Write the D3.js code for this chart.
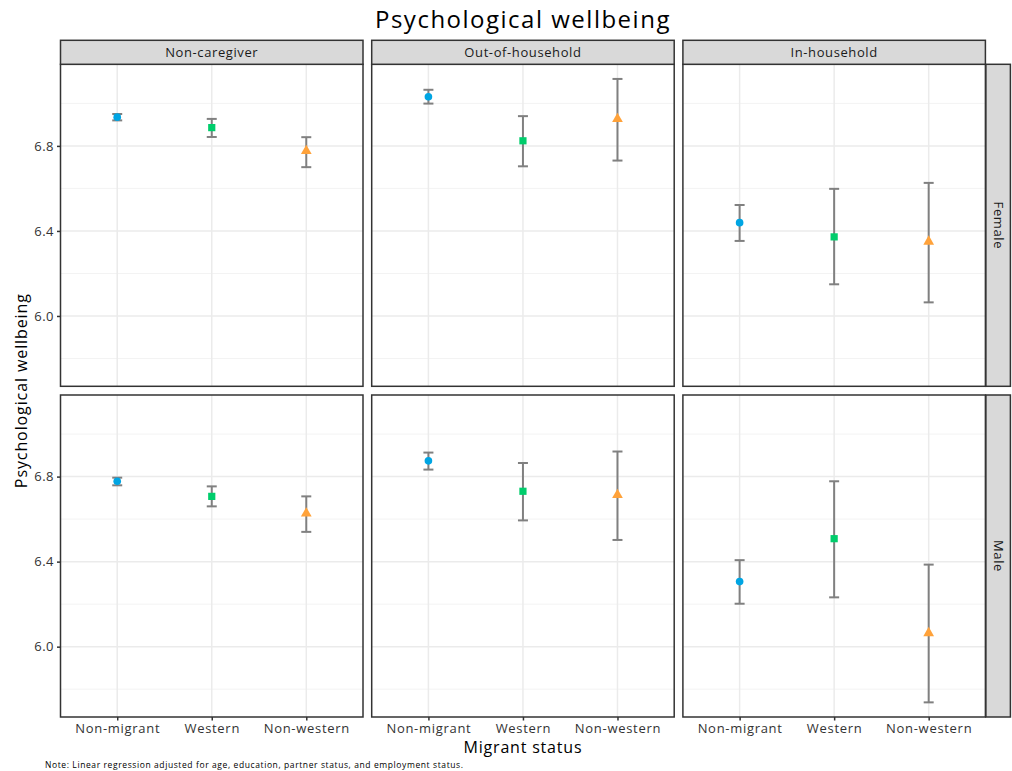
<!DOCTYPE html>
<html>
<head>
<meta charset="utf-8">
<script src="https://cdn.jsdelivr.net/npm/d3@7"></script>
<style>
  body { margin: 0; background: #fff; }
  svg text { font-family: "Open Sans", "Noto Sans", sans-serif; }
</style>
</head>
<body>
<svg id="chart"></svg>
<script>
// facets and categories
var caregiving = ["Non-caregiver", "Out-of-household", "In-household"];
var gender = ["Female", "Male"];
var migrant = ["Non-migrant", "Western", "Non-western"];

// estimates, rows = caregiving, cols = migrant status
var femaleEst = [[6.935, 6.886, 6.776], [7.031, 6.824, 6.927], [6.439, 6.372, 6.350]];
var femaleLo  = [[6.920, 6.842, 6.700], [6.999, 6.704, 6.731], [6.353, 6.149, 6.064]];
var femaleHi  = [[6.950, 6.927, 6.841], [7.064, 6.940, 7.115], [6.522, 6.598, 6.626]];
var maleEst   = [[6.778, 6.707, 6.627], [6.874, 6.731, 6.714], [6.306, 6.508, 6.064]];
var maleLo    = [[6.759, 6.660, 6.540], [6.833, 6.594, 6.502], [6.202, 6.232, 5.738]];
var maleHi    = [[6.795, 6.754, 6.707], [6.913, 6.864, 6.918], [6.407, 6.778, 6.386]];

var majorTicks = [6.0, 6.4, 6.8];
var minorTicks = [5.8, 6.2, 6.6, 7.0];
var colors = ["#00A5E3", "#00CD6C", "#FFA23A"];

var draw = function(){
    const width = 1012, height = 771;
    const left = 60.5, top = 64.3;
    const panelW = 302.5, panelH = 322, gap = 8.7;
    const stripH = 24, stripW = 24.5;

    var svg = d3.select('svg#chart')
    .attr('width', width)
    .attr('height', height);

    // build rows of data
    var est = {Female: femaleEst, Male: maleEst};
    var lo = {Female: femaleLo, Male: maleLo};
    var hi = {Female: femaleHi, Male: maleHi};
    var rows = [];
    gender.forEach(function(g){
        caregiving.forEach(function(c, ci){
            migrant.forEach(function(m, mi){
                rows.push({g: g, c: c, m: m, est: est[g][ci][mi], lo: lo[g][ci][mi], hi: hi[g][ci][mi]});
            });
        });
    });

    // shared y scale with ggplot style 5% expansion
    var yMin = d3.min(rows, d => d.lo), yMax = d3.max(rows, d => d.hi);
    var pad = (yMax - yMin) * 0.05;
    var y = d3.scaleLinear().domain([yMin - pad, yMax + pad]).range([panelH, 0]);
    var x = d3.scalePoint().domain(migrant).range([0, panelW]).padding(0.6);
    var color = d3.scaleOrdinal().domain(migrant).range(colors);
    var shape = d3.scaleOrdinal().domain(migrant).range([d3.symbolCircle, d3.symbolSquare, d3.symbolTriangle]);
    var shapeSize = d3.scaleOrdinal().domain(migrant).range([46, 52, 50]);

    // title
    svg.append('text')
    .attr('x', left + (panelW * 3 + gap * 2) / 2)
    .attr('y', 28)
    .attr('text-anchor', 'middle')
    .style('font-size', '24px')
    .style('letter-spacing', '1.5px')
    .style('fill', '#000')
    .text('Psychological wellbeing');

    gender.forEach(function(g, gi){
        caregiving.forEach(function(c, ci){
            var px = left + ci * (panelW + gap);
            var py = top + gi * (panelH + gap);
            var p = svg.append('g').attr('transform', 'translate(' + px + ',' + py + ')');

            p.append('rect').attr('width', panelW).attr('height', panelH).attr('fill', '#fff');

            // gridlines
            p.selectAll('line.minor').data(minorTicks).enter().append('line')
            .attr('x1', 0).attr('x2', panelW)
            .attr('y1', d => y(d)).attr('y2', d => y(d))
            .attr('stroke', '#F3F3F3').attr('stroke-width', 1);
            p.selectAll('line.major').data(majorTicks).enter().append('line')
            .attr('x1', 0).attr('x2', panelW)
            .attr('y1', d => y(d)).attr('y2', d => y(d))
            .attr('stroke', '#EBEBEB').attr('stroke-width', 1.5);
            p.selectAll('line.vmajor').data(migrant).enter().append('line')
            .attr('x1', d => x(d)).attr('x2', d => x(d))
            .attr('y1', 0).attr('y2', panelH)
            .attr('stroke', '#EBEBEB').attr('stroke-width', 1.5);

            var sub = rows.filter(r => r.g === g && r.c === c);

            // error bars
            var eb = p.selectAll('g.eb').data(sub).enter().append('g')
            .attr('stroke', '#808080').attr('stroke-width', 2);
            eb.append('line')
            .attr('x1', d => x(d.m)).attr('x2', d => x(d.m))
            .attr('y1', d => y(d.lo)).attr('y2', d => y(d.hi));
            eb.append('line')
            .attr('x1', d => x(d.m) - 5).attr('x2', d => x(d.m) + 5)
            .attr('y1', d => y(d.lo)).attr('y2', d => y(d.lo));
            eb.append('line')
            .attr('x1', d => x(d.m) - 5).attr('x2', d => x(d.m) + 5)
            .attr('y1', d => y(d.hi)).attr('y2', d => y(d.hi));

            // points
            p.selectAll('path.pt').data(sub).enter().append('path')
            .attr('d', d => d3.symbol().type(shape(d.m)).size(shapeSize(d.m))())
            .attr('transform', d => 'translate(' + x(d.m) + ',' + y(d.est) + ')')
            .attr('fill', d => color(d.m));

            // border
            p.append('rect').attr('width', panelW).attr('height', panelH)
            .attr('fill', 'none').attr('stroke', '#333').attr('stroke-width', 1.5);

            // top strip
            if(gi === 0){
                var s = svg.append('g').attr('transform', 'translate(' + px + ',' + (top - stripH) + ')');
                s.append('rect').attr('width', panelW).attr('height', stripH)
                .attr('fill', '#D9D9D9').attr('stroke', '#333').attr('stroke-width', 1.5);
                s.append('text').attr('x', panelW / 2).attr('y', stripH / 2)
                .attr('dy', '0.35em').attr('text-anchor', 'middle')
                .style('font-size', '13px').style('letter-spacing', '0.6px')
                .style('fill', '#1A1A1A').text(c);
            }
            // right strip
            if(ci === caregiving.length - 1){
                var r = svg.append('g').attr('transform', 'translate(' + (px + panelW + 0.5) + ',' + py + ')');
                r.append('rect').attr('width', stripW).attr('height', panelH)
                .attr('fill', '#D9D9D9').attr('stroke', '#333').attr('stroke-width', 1.5);
                r.append('text').attr('transform', 'translate(' + stripW / 2 + ',' + panelH / 2 + ') rotate(90)')
                .attr('dy', '0.35em').attr('text-anchor', 'middle')
                .style('font-size', '13px').style('letter-spacing', '0.6px')
                .style('fill', '#1A1A1A').text(g);
            }
            // y axis
            if(ci === 0){
                var ya = p.append('g').call(d3.axisLeft(y).tickValues(majorTicks).tickFormat(d3.format('.1f')).tickSize(3.5).tickPadding(3));
                ya.select('.domain').remove();
                ya.selectAll('line').attr('stroke', '#333').attr('stroke-width', 1.5);
                ya.selectAll('text').style('font-size', '13px').style('letter-spacing', '0.5px')
                .style('fill', '#333').attr('font-family', null);
            }
            // x axis
            if(gi === gender.length - 1){
                var xa = p.append('g').attr('transform', 'translate(0,' + panelH + ')')
                .call(d3.axisBottom(x).tickSize(3.5).tickPadding(3));
                xa.select('.domain').remove();
                xa.selectAll('line').attr('stroke', '#333').attr('stroke-width', 1.5);
                xa.selectAll('text').style('font-size', '13px').style('letter-spacing', '0.7px')
                .style('fill', '#333').attr('font-family', null);
            }
        });
    });

    // axis titles
    svg.append('text')
    .attr('x', left + (panelW * 3 + gap * 2) / 2)
    .attr('y', 753)
    .attr('text-anchor', 'middle')
    .style('font-size', '16px').style('letter-spacing', '0.8px').style('fill', '#000')
    .text('Migrant status');

    svg.append('text')
    .attr('transform', 'translate(27,' + (top + panelH + gap / 2) + ') rotate(-90)')
    .attr('text-anchor', 'middle')
    .style('font-size', '16px').style('letter-spacing', '0.9px').style('fill', '#000')
    .text('Psychological wellbeing');

    svg.append('text')
    .attr('x', 45).attr('y', 768)
    .style('font-size', '8.5px').style('letter-spacing', '0.6px').style('fill', '#000')
    .text('Note: Linear regression adjusted for age, education, partner status, and employment status.');
};

draw();
</script>
</body>
</html>
